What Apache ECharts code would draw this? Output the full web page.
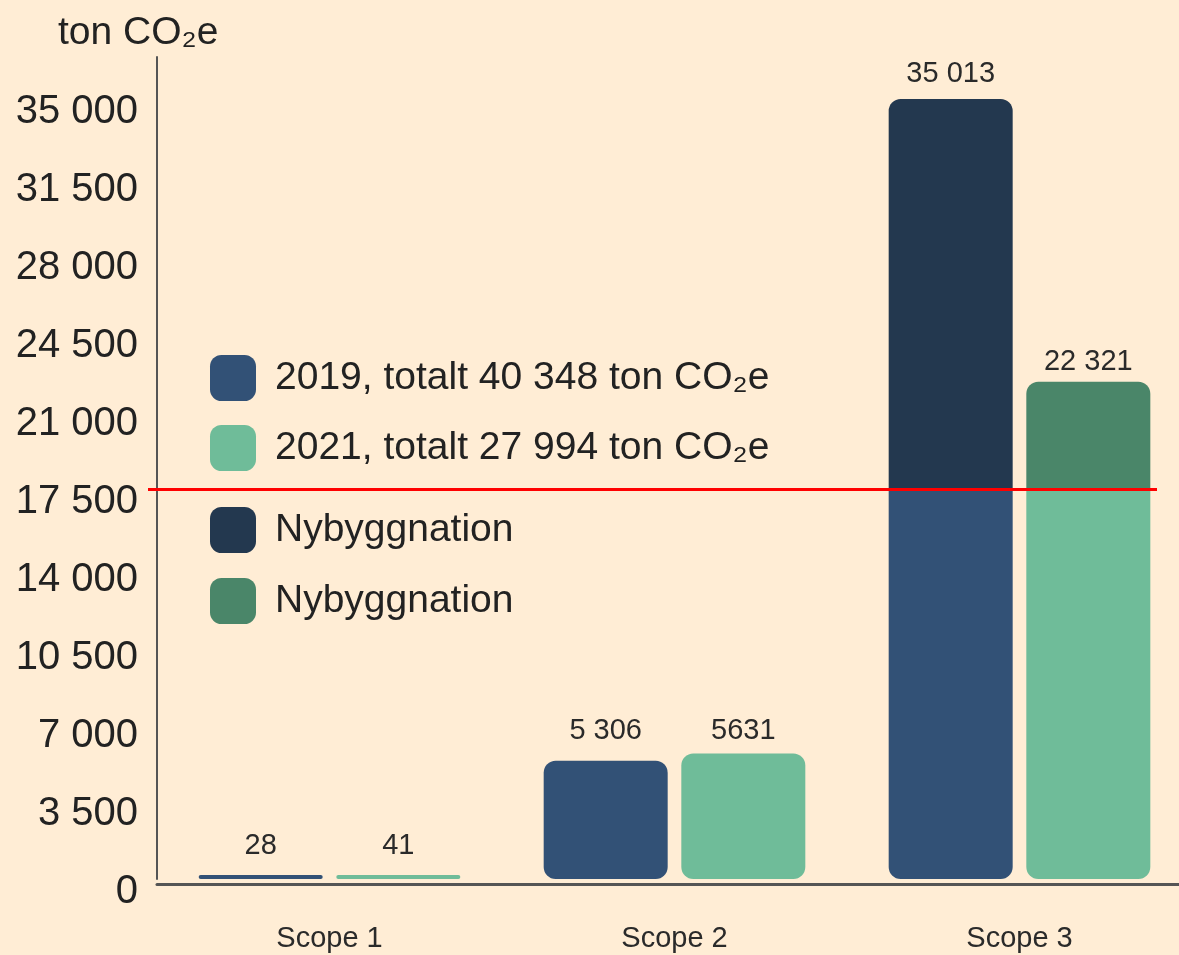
<!DOCTYPE html>
<html>
<head>
<meta charset="utf-8">
<title>Utsläpp per scope</title>
<script src="https://cdn.jsdelivr.net/npm/echarts@6/dist/echarts.min.js"></script>
<style>
  html, body { margin: 0; padding: 0; background: #ffedd5; }
  #chart { width: 1179px; height: 955px; }
</style>
</head>
<body>
<div id="chart"></div>
<script>
// data
const categories = ["Scope 1", "Scope 2", "Scope 3"];
const values2019 = [28, 5306, 17500];      // scope 3: part below the red line
const values2021 = [41, 5631, 17500];
const nyb2019 = [null, null, 17513];       // Nybyggnation on top, total 35 013
const nyb2021 = [null, null, 4821];        // total 22 321
const labels2019 = ["28", "5 306", "35 013"];
const labels2021 = ["41", "5631", "22 321"];
const legendNames = ["2019, totalt 40 348 ton CO\u2082e", "2021, totalt 27 994 ton CO\u2082e"];
const refLine = 17500;
const yStep = 3500;

const font = "Liberation Sans";
const R = 12;

function fmtTick(v) {
  if (v % yStep !== 0) return "";
  return String(v).replace(/\B(?=(\d{3})+(?!\d))/g, " ");
}

// dist: label gap above each bar (style only)
function baseData(vals, labels, dist) {
  return vals.map((v, i) => ({
    value: v,
    itemStyle: { borderRadius: i < 2 ? R : [0, 0, R, R] },
    label: { show: i < 2, formatter: labels[i], distance: dist[i] }
  }));
}
function topData(vals, labels, dist) {
  return vals.map((v, i) => ({
    value: v,
    label: { show: v != null, formatter: labels[i], distance: dist[i] }
  }));
}

const labelStyle = {
  position: "top",
  distance: 14,
  color: "#2a2a2a",
  fontSize: 29,
  fontFamily: font
};

const legendText = { fontSize: 39, color: "#222", fontFamily: font, padding: [0, 0, 0, 14] };

const chart = echarts.init(document.getElementById("chart"));
chart.setOption({
  backgroundColor: "#ffedd5",
  animation: false,
  title: {
    text: "ton CO\u2082e",
    left: 53,
    top: 9,
    textStyle: { fontSize: 39, fontWeight: "normal", color: "#222", fontFamily: font }
  },
  legend: [
    {
      orient: "vertical",
      left: 205,
      top: 350,
      itemWidth: 46,
      itemHeight: 46,
      itemGap: 24,
      icon: "roundRect",
      data: legendNames,
      textStyle: legendText
    },
    {
      orient: "vertical",
      left: 205,
      top: 502,
      itemWidth: 46,
      itemHeight: 46,
      itemGap: 25,
      icon: "roundRect",
      data: ["Nybyggnation", "Nybyggnation "],
      formatter: (n) => n.trim(),
      textStyle: legendText
    }
  ],
  grid: { left: 157, top: 57, width: 1035, height: 822, outerBoundsMode: "none" },
  xAxis: {
    type: "category",
    data: categories,
    offset: 5,
    axisTick: { show: false },
    axisLine: { onZero: false, lineStyle: { color: "#555", width: 3 } },
    axisLabel: { fontSize: 29, color: "#2a2a2a", fontFamily: font, margin: 40 }
  },
  yAxis: {
    type: "value",
    min: 0,
    max: 36900,
    interval: yStep,
    splitLine: { show: false },
    axisTick: { show: false },
    axisLine: { show: true, lineStyle: { color: "#555", width: 2 } },
    axisLabel: {
      fontSize: 40,
      color: "#222",
      fontFamily: font,
      margin: 19,
      verticalAlign: "top",
      lineHeight: 26,
      formatter: fmtTick
    }
  },
  series: [
    {
      name: legendNames[0],
      type: "bar",
      stack: "a",
      barWidth: 124,
      barMinHeight: 4,
      itemStyle: { color: "#325176" },
      label: labelStyle,
      data: baseData(values2019, labels2019, [15, 15, 0])
    },
    {
      name: "Nybyggnation",
      type: "bar",
      stack: "a",
      barWidth: 124,
      itemStyle: { color: "#23384f", borderRadius: [R, R, 0, 0] },
      label: labelStyle,
      data: topData(nyb2019, labels2019, [0, 0, 11])
    },
    {
      name: legendNames[1],
      type: "bar",
      stack: "b",
      barWidth: 124,
      barMinHeight: 4,
      itemStyle: { color: "#6fbc99" },
      label: labelStyle,
      data: baseData(values2021, labels2021, [15, 8, 0])
    },
    {
      name: "Nybyggnation ",
      type: "bar",
      stack: "b",
      barWidth: 124,
      barGap: "11%",
      itemStyle: { color: "#4a8669", borderRadius: [R, R, 0, 0] },
      label: labelStyle,
      data: topData(nyb2021, labels2021, [0, 0, 5]),
      markLine: {
        silent: true,
        symbol: "none",
        label: { show: false },
        lineStyle: { color: "#ff0000", width: 3, type: "solid" },
        data: [[{ yAxis: refLine, x: 148 }, { yAxis: refLine, x: 1157 }]]
      }
    }
  ]
});
</script>
</body>
</html>
